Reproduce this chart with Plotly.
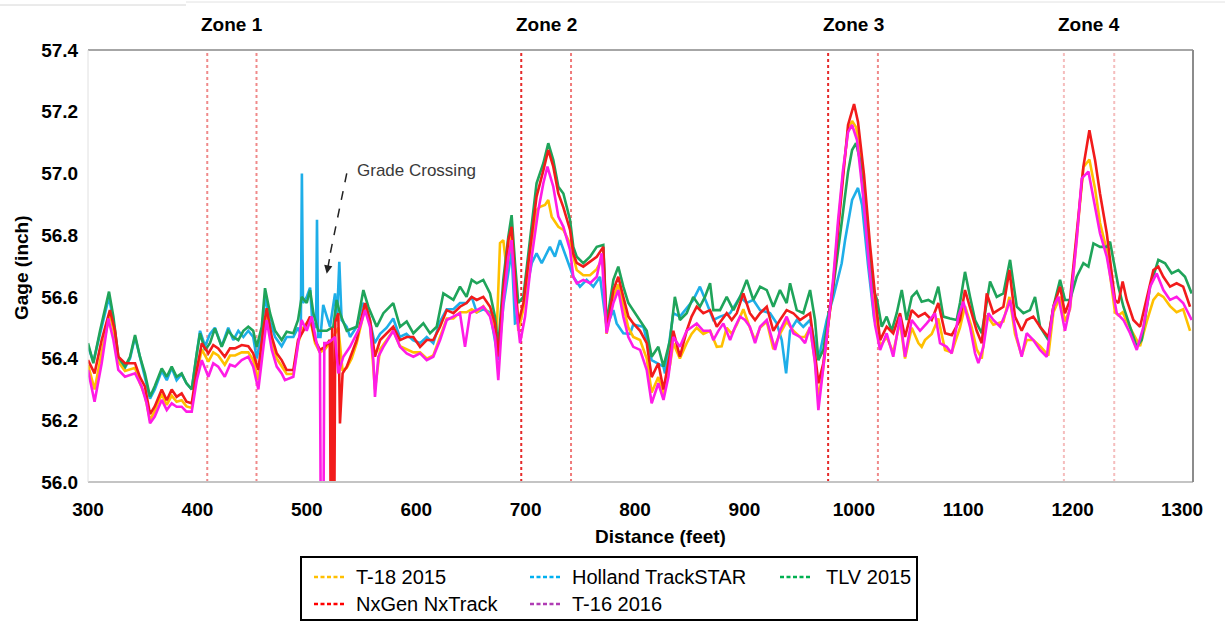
import plotly.graph_objects as go

# ---------------- data (distance ft, gage inch) ----------------
t18_2015 = [
    (300, 56.38), (306, 56.30), (312.5, 56.42), (320, 56.545), (324.7, 56.47), (327.7, 56.39), (333.8, 56.36),
    (343, 56.37), (347.5, 56.32), (352, 56.28), (356.7, 56.20), (361, 56.23), (367.4, 56.285), (372, 56.25),
    (376.5, 56.28), (381, 56.26), (385.6, 56.265), (390, 56.245), (394.8, 56.24), (399.4, 56.35), (404, 56.43),
    (410, 56.39), (414.5, 56.42), (419, 56.41), (425, 56.38), (429.8, 56.41), (434.4, 56.41), (440.5, 56.42),
    (446.5, 56.42), (451, 56.395), (455.7, 56.33), (460, 56.47), (463.3, 56.545), (468, 56.45), (472.5, 56.40),
    (477, 56.375), (481.6, 56.35), (487.7, 56.35), (492, 56.45), (496.8, 56.50), (503, 56.53), (507.5, 56.45),
    (512, 56.42), (516.6, 56.43), (521, 56.45), (528.8, 56.50), (532.7, 56.36), (536.5, 56.37), (541, 56.40),
    (545.6, 56.45), (550.2, 56.52), (553.2, 56.565), (557.8, 56.51), (562.3, 56.30), (567, 56.43), (573, 56.46),
    (579, 56.49), (585.2, 56.44), (591.3, 56.43), (597.4, 56.42), (603.5, 56.42), (609.6, 56.40), (615.6, 56.41),
    (621.8, 56.47), (627.9, 56.53), (634, 56.53), (640, 56.55), (646, 56.55), (650.7, 56.56), (655.3, 56.55),
    (661.3, 56.57), (667.5, 56.54), (673.6, 56.49), (676.6, 56.774), (679.6, 56.784), (682.7, 56.687),
    (687.2, 56.806), (690.3, 56.665), (693.3, 56.49), (697.9, 56.56), (704, 56.74), (710, 56.881), (713.2, 56.892),
    (717.7, 56.898), (720.7, 56.914), (723.8, 56.86), (729.9, 56.827), (734.5, 56.817), (740.6, 56.773),
    (746.7, 56.687), (752.7, 56.67), (758.9, 56.67), (765, 56.69), (771, 56.73), (774, 56.48), (780.2, 56.60),
    (784.7, 56.64), (789.3, 56.57), (793.9, 56.50), (798.4, 56.47), (804.6, 56.46), (810.7, 56.40), (815.2, 56.29),
    (821.3, 56.34), (826, 56.28), (832, 56.38), (835, 56.45), (841, 56.40), (847.2, 56.45), (851.7, 56.48),
    (856.4, 56.50), (862.4, 56.48), (868.6, 56.49), (874.7, 56.438), (879.2, 56.44), (883.8, 56.50), (888.4, 56.48),
    (893, 56.51), (899, 56.56), (905, 56.50), (909.7, 56.46), (914.3, 56.50), (920.4, 56.52), (926.4, 56.43),
    (932.5, 56.48), (938.6, 56.52), (944.7, 56.49), (950.8, 56.47), (955.4, 56.47), (960, 56.50), (964.5, 56.39),
    (967.6, 56.27), (972.1, 56.37), (976.7, 56.51), (981.3, 56.65), (985.6, 56.83), (990.1, 57.00), (994.7, 57.14),
    (998.4, 57.17), (1002, 57.15), (1006, 57.07), (1011, 56.88), (1016, 56.68), (1021, 56.52), (1024, 56.44),
    (1030, 56.47), (1036, 56.42), (1042.2, 56.52), (1046.8, 56.40), (1052.9, 56.50), (1059, 56.45), (1062, 56.438),
    (1065, 56.46), (1071.2, 56.48), (1077.2, 56.53), (1083.4, 56.428), (1089.5, 56.42), (1097, 56.50),
    (1101.6, 56.57), (1107.8, 56.50), (1112.3, 56.43), (1116.9, 56.40), (1121.5, 56.54), (1127.5, 56.51),
    (1136.7, 56.52), (1142.2, 56.60), (1147.3, 56.48), (1153.4, 56.41), (1158, 56.46), (1164, 56.46),
    (1170.2, 56.44), (1177.8, 56.41), (1182.4, 56.55), (1188.5, 56.60), (1193, 56.52), (1197.6, 56.56),
    (1203.7, 56.79), (1209.8, 57.02), (1215.3, 57.045), (1220.5, 56.95), (1225, 56.84), (1231.2, 56.75),
    (1235.7, 56.63), (1238.7, 56.55), (1241.8, 56.54), (1245.7, 56.55), (1249.4, 56.52), (1255.5, 56.48),
    (1261.6, 56.44), (1267.7, 56.52), (1273.8, 56.59), (1278.3, 56.61), (1282.9, 56.60), (1289, 56.57),
    (1295, 56.55), (1301, 56.56), (1307.3, 56.49),
]

holland_trackstar = [
    (300, 56.44), (304.9, 56.39), (311, 56.48), (319.2, 56.60), (323.2, 56.52), (327.7, 56.40), (333.8, 56.37),
    (338.4, 56.40), (343, 56.47), (347.5, 56.40), (352, 56.34), (356.7, 56.27), (361, 56.30), (367.4, 56.36),
    (372, 56.33), (376.5, 56.37), (381, 56.33), (385.6, 56.35), (390, 56.32), (394.8, 56.30), (399.4, 56.42),
    (402.4, 56.49), (407, 56.44), (411.5, 56.48), (416, 56.50), (422.2, 56.44), (428.2, 56.50), (432.8, 56.46),
    (437.4, 56.49), (442, 56.47), (446.5, 56.49), (451, 56.47), (454.2, 56.40), (458.8, 56.48), (461.8, 56.60),
    (466.4, 56.52), (471, 56.47), (477, 56.44), (481.6, 56.47), (487.7, 56.47), (492, 56.50), (494.5, 56.48),
    (495.5, 57.00), (496.5, 56.58), (499.9, 56.60), (503, 56.63), (505, 56.52), (508.5, 56.50), (509.3, 56.85),
    (510.3, 56.47), (512.5, 56.47), (515, 56.574), (521.2, 56.503), (525.8, 56.611), (527.5, 56.52),
    (529.7, 56.714), (531.8, 56.525), (536.5, 56.503), (539.5, 56.47), (545.6, 56.503), (551, 56.58), (556, 56.55),
    (562, 56.45), (567, 56.48), (573, 56.50), (579, 56.53), (585, 56.47), (591, 56.48), (597, 56.46), (603.5, 56.45),
    (609.6, 56.47), (615.6, 56.45), (621.8, 56.52), (627.9, 56.56), (634, 56.56), (640, 56.58), (646, 56.58),
    (650.7, 56.60), (655.3, 56.55), (661.3, 56.56), (667.5, 56.55), (672, 56.46), (675, 56.395), (679.6, 56.57),
    (684.2, 56.68), (687.2, 56.75), (690.3, 56.514), (694.9, 56.52), (699.5, 56.60), (705.6, 56.709),
    (710, 56.741), (714.7, 56.709), (722.2, 56.762), (726.8, 56.73), (731.4, 56.784), (737.6, 56.72),
    (743.6, 56.665), (749.7, 56.633), (755.8, 56.655), (761.9, 56.633), (768, 56.665), (774, 56.503),
    (780.2, 56.557), (783.2, 56.514), (789.3, 56.482), (795.4, 56.48), (798.4, 56.51), (807.6, 56.503),
    (815.2, 56.395), (826, 56.374), (827.4, 56.352), (835, 56.547), (841, 56.536), (853.2, 56.59), (859.3, 56.633),
    (865.5, 56.58), (871.6, 56.525), (877.7, 56.536), (886.9, 56.547), (896, 56.60), (902.1, 56.58), (908.1, 56.59),
    (914.3, 56.557), (923.4, 56.547), (929.5, 56.514), (934.1, 56.46), (938.1, 56.352), (941.7, 56.49),
    (947.8, 56.525), (953.8, 56.503), (960, 56.525), (967.6, 56.395), (975.2, 56.525), (981.3, 56.60),
    (988.9, 56.709), (992, 56.784), (998.4, 56.914), (1003.8, 56.953), (1007.5, 56.898), (1013, 56.703),
    (1018.5, 56.531), (1024, 56.46),
]

tlv_2015 = [
    (300, 56.45), (304.9, 56.385), (311, 56.49), (319.2, 56.617), (323.2, 56.536), (327.7, 56.406), (333.8, 56.374),
    (338.4, 56.406), (343, 56.476), (347.5, 56.406), (352, 56.352), (356.7, 56.276), (361, 56.31), (367.4, 56.368),
    (372, 56.341), (376.5, 56.374), (381, 56.341), (385.6, 56.352), (390, 56.32), (394.8, 56.30), (399.4, 56.417),
    (402.4, 56.482), (407, 56.428), (411.5, 56.45), (416, 56.498), (422.2, 56.438), (428.2, 56.49), (432.8, 56.47),
    (437.4, 56.46), (442, 56.49), (446.5, 56.503), (451, 56.49), (454.2, 56.438), (458.8, 56.503), (461.8, 56.628),
    (466.4, 56.547), (471, 56.49), (477, 56.46), (481.6, 56.487), (487.7, 56.482), (492, 56.525), (495.3, 56.60),
    (499.9, 56.58), (503, 56.622), (506, 56.547), (510.5, 56.49), (518.2, 56.49), (524.2, 56.503), (527.3, 56.59),
    (530.3, 56.547), (536.5, 56.49), (545.6, 56.503), (551.7, 56.622), (556.2, 56.568), (563.9, 56.503),
    (570, 56.547), (579, 56.58), (585.2, 56.503), (591.3, 56.52), (597.4, 56.482), (606.5, 56.514), (612.6, 56.482),
    (618.7, 56.503), (624.8, 56.611), (634, 56.59), (640, 56.633), (646, 56.60), (650.7, 56.655), (655.3, 56.644),
    (661.3, 56.655), (667.5, 56.611), (672, 56.536), (675, 56.438), (679.6, 56.655), (684.2, 56.795),
    (687.2, 56.865), (690.3, 56.709), (693.3, 56.58), (697.9, 56.60), (704, 56.784), (710, 56.968), (716.2, 57.033),
    (720.7, 57.098), (725.3, 57.043), (729.9, 56.957), (734.5, 56.935), (740.6, 56.849), (743.6, 56.762),
    (746.7, 56.73), (752.7, 56.709), (758.9, 56.73), (765, 56.762), (771, 56.768), (774, 56.514), (780.2, 56.655),
    (784.7, 56.698), (789.3, 56.633), (793.9, 56.58), (798.4, 56.557), (804.6, 56.525), (810.7, 56.49),
    (815.2, 56.406), (821.3, 56.438), (826, 56.374), (832, 56.46), (836.4, 56.60), (841, 56.525), (847.2, 56.547),
    (853.2, 56.60), (859.3, 56.568), (863.9, 56.60), (868.6, 56.644), (871.6, 56.557), (877.7, 56.557),
    (883.8, 56.60), (889.9, 56.557), (896, 56.60), (902.1, 56.655), (908.1, 56.59), (914.3, 56.633),
    (920.4, 56.622), (926.4, 56.568), (932.5, 56.622), (938.6, 56.58), (941.7, 56.644), (947.8, 56.557),
    (953.8, 56.547), (960, 56.622), (964.5, 56.525), (967.6, 56.395), (972.1, 56.428), (976.7, 56.536),
    (981.3, 56.633), (989.2, 56.849), (994.7, 57.005), (998.4, 57.076), (1002, 57.098), (1005.7, 57.043),
    (1011.2, 56.849), (1016.6, 56.638), (1021.2, 56.59), (1025.5, 56.503), (1030, 56.536), (1034.6, 56.49),
    (1039.2, 56.547), (1043.8, 56.622), (1048.3, 56.525), (1052.9, 56.60), (1057.5, 56.617), (1062, 56.584),
    (1068.1, 56.59), (1072.7, 56.58), (1077.2, 56.633), (1081.8, 56.536), (1087.9, 56.53), (1094, 56.525),
    (1097, 56.58), (1101.6, 56.681), (1106.2, 56.60), (1110.8, 56.525), (1116.9, 56.482), (1121.5, 56.58),
    (1124.5, 56.65), (1130.6, 56.60), (1136.7, 56.611), (1142.8, 56.72), (1148.9, 56.568), (1155, 56.547),
    (1161, 56.557), (1165.6, 56.60), (1170.2, 56.503), (1177.8, 56.46), (1182.4, 56.568), (1188.5, 56.655),
    (1193, 56.59), (1197.6, 56.59), (1203.7, 56.665), (1209.8, 56.709), (1214.4, 56.698), (1219, 56.773),
    (1225, 56.762), (1231.2, 56.762), (1234.2, 56.779), (1237.2, 56.72), (1241.8, 56.633), (1246.4, 56.568),
    (1252.5, 56.503), (1258.6, 56.438), (1263.1, 56.46), (1270.8, 56.633), (1278.3, 56.72), (1284.5, 56.709),
    (1290.5, 56.676), (1296.6, 56.687), (1302.7, 56.665), (1308.8, 56.611),
]

nxgen_nxtrack = [
    (300, 56.395), (306, 56.352), (312.5, 56.46), (320, 56.557), (324.7, 56.49), (327.7, 56.406), (333.8, 56.385),
    (343, 56.385), (347.5, 56.34), (352, 56.31), (356.7, 56.22), (361, 56.245), (367.4, 56.30), (372, 56.265),
    (376.5, 56.30), (381, 56.276), (385.6, 56.287), (390, 56.26), (394.8, 56.255), (399.4, 56.363), (404, 56.45),
    (410, 56.417), (414.5, 56.444), (419, 56.433), (425, 56.406), (429.8, 56.433), (434.4, 56.433), (440.5, 56.444),
    (446.5, 56.44), (451, 56.417), (455.7, 56.363), (460, 56.49), (463.3, 56.563), (468, 56.47), (472.5, 56.417),
    (477, 56.395), (481.6, 56.363), (487.7, 56.363), (492, 56.46), (496.8, 56.49), (503, 56.536), (507.5, 56.46),
    (512, 56.428), (516.6, 56.438), (521, 56.46), (522.1, 55.7), (523.2, 56.50), (524.9, 55.7), (526, 56.52),
    (528.8, 56.547), (530.3, 56.19), (532.7, 56.352), (536.5, 56.374), (541, 56.417), (545.6, 56.46),
    (550.2, 56.536), (553.2, 56.58), (557.8, 56.525), (562.3, 56.406), (567, 56.46), (573, 56.482), (579, 56.503),
    (585.2, 56.46), (591.3, 56.47), (597.4, 56.47), (603.5, 56.438), (609.6, 56.46), (615.6, 56.46), (621.8, 56.503),
    (627.9, 56.557), (634, 56.547), (640, 56.568), (646, 56.58), (650.7, 56.60), (655.3, 56.59), (661.3, 56.60),
    (667.5, 56.568), (672, 56.514), (675, 56.406), (679.6, 56.622), (684.2, 56.784), (687.2, 56.827),
    (690.3, 56.665), (693.3, 56.514), (697.9, 56.58), (704, 56.75), (710, 56.925), (716.2, 57.01), (720.7, 57.076),
    (725.3, 57.022), (729.9, 56.935), (734.5, 56.89), (740.6, 56.817), (743.6, 56.74), (746.7, 56.71),
    (752.7, 56.698), (758.9, 56.714), (765, 56.73), (771, 56.762), (774, 56.49), (780.2, 56.622), (784.7, 56.665),
    (789.3, 56.60), (793.9, 56.536), (798.4, 56.514), (804.6, 56.49), (810.7, 56.45), (815.2, 56.34),
    (821.3, 56.385), (826, 56.30), (832, 56.417), (835, 56.49), (841, 56.406), (847.2, 56.49), (851.7, 56.536),
    (856.4, 56.568), (862.4, 56.547), (868.6, 56.557), (874.7, 56.503), (879.2, 56.525), (883.8, 56.547),
    (888.4, 56.525), (893, 56.547), (899, 56.611), (905, 56.547), (909.7, 56.525), (914.3, 56.547), (920.4, 56.568),
    (926.4, 56.49), (932.5, 56.525), (938.6, 56.557), (944.7, 56.547), (950.8, 56.525), (955.4, 56.536),
    (960, 56.547), (964.5, 56.417), (967.6, 56.32), (972.1, 56.385), (976.7, 56.514), (981.3, 56.644),
    (985.6, 56.817), (990.1, 56.995), (994.7, 57.157), (1000.2, 57.225), (1003.8, 57.167), (1009.3, 56.995),
    (1014.8, 56.768), (1020.3, 56.574), (1024, 56.46), (1030, 56.503), (1036, 56.482), (1042.2, 56.547),
    (1046.8, 56.47), (1052.9, 56.557), (1059, 56.536), (1065, 56.547), (1071.2, 56.525), (1077.2, 56.58),
    (1083.4, 56.482), (1089.5, 56.476), (1097, 56.525), (1101.6, 56.622), (1107.8, 56.547), (1112.3, 56.49),
    (1116.9, 56.45), (1121.5, 56.611), (1127.5, 56.547), (1136.7, 56.568), (1142.2, 56.687), (1147.3, 56.536),
    (1153.4, 56.49), (1158, 56.525), (1164, 56.536), (1170.2, 56.503), (1177.8, 56.47), (1182.4, 56.568),
    (1188.5, 56.633), (1193, 56.547), (1197.6, 56.59), (1203.7, 56.806), (1209.8, 57.022), (1215.3, 57.14),
    (1220.5, 57.043), (1225, 56.935), (1231.2, 56.806), (1235.7, 56.676), (1238.7, 56.59), (1241.8, 56.58),
    (1245.7, 56.65), (1249.4, 56.59), (1255.5, 56.525), (1261.6, 56.503), (1267.7, 56.59), (1273.8, 56.687),
    (1278.3, 56.698), (1282.9, 56.665), (1289, 56.633), (1295, 56.644), (1301, 56.633), (1307.3, 56.568),
]

t16_2016 = [
    (300, 56.363), (306, 56.26), (312.5, 56.385), (318.6, 56.53), (323.2, 56.46), (327.7, 56.363), (333.8, 56.341),
    (343, 56.352), (349, 56.31), (353.6, 56.255), (356.7, 56.19), (361, 56.212), (367.4, 56.266), (372, 56.233),
    (376.5, 56.255), (381, 56.244), (385.6, 56.244), (390, 56.228), (394.8, 56.228), (399.4, 56.33), (404, 56.395),
    (410, 56.341), (414.5, 56.385), (419, 56.374), (425, 56.341), (429.8, 56.38), (434.4, 56.374), (440.5, 56.395),
    (446.5, 56.406), (451, 56.374), (455.7, 56.30), (460, 56.438), (463.3, 56.525), (468, 56.428), (472.5, 56.374),
    (477, 56.352), (480, 56.33), (487.7, 56.341), (492, 56.438), (495.3, 56.525), (499.9, 56.49), (504.4, 56.536),
    (509, 56.45), (512, 56.417), (513, 55.7), (515, 55.7), (516, 56.45), (518.2, 56.45), (521, 56.455),
    (525.8, 56.47), (528.8, 56.352), (533.4, 56.406), (539.5, 56.438), (548.7, 56.503), (553.2, 56.557),
    (557.8, 56.503), (560.8, 56.395), (562.3, 56.276), (565.4, 56.406), (570, 56.438), (579, 56.49), (585.2, 56.438),
    (591.3, 56.417), (597.4, 56.406), (603.5, 56.417), (609.6, 56.395), (615.6, 56.406), (621.8, 56.46),
    (627.9, 56.525), (634, 56.536), (640, 56.547), (644.6, 56.438), (649.2, 56.547), (655.3, 56.557),
    (661.3, 56.568), (667.5, 56.536), (672, 56.47), (675, 56.33), (679.6, 56.58), (684.2, 56.73), (687.2, 56.784),
    (690.3, 56.60), (694.9, 56.45), (699.5, 56.536), (705.6, 56.73), (711.6, 56.881), (716.2, 56.968),
    (719.9, 57.022), (725.3, 56.957), (729.9, 56.86), (734.5, 56.827), (740.6, 56.752), (743.6, 56.665),
    (746.7, 56.644), (752.7, 56.655), (758.9, 56.644), (765, 56.665), (769.5, 56.741), (774, 56.482),
    (780.2, 56.58), (784.7, 56.622), (789.3, 56.536), (793.9, 56.47), (798.4, 56.438), (804.6, 56.428),
    (810.7, 56.363), (815.2, 56.255), (821.3, 56.32), (826, 56.266), (830.5, 56.341), (835, 56.47), (841, 56.438),
    (847.2, 56.49), (856.4, 56.514), (862.4, 56.49), (868.6, 56.49), (871.6, 56.46), (876.2, 56.49),
    (880.7, 56.514), (886.9, 56.46), (891.5, 56.503), (896, 56.536), (900.5, 56.525), (905, 56.503),
    (909.7, 56.45), (914.3, 56.503), (920.4, 56.525), (928, 56.428), (932.5, 56.49), (938.6, 56.536),
    (944.7, 56.482), (950.8, 56.47), (955.4, 56.45), (960, 56.503), (964.5, 56.385), (967.6, 56.233),
    (972.1, 56.363), (976.7, 56.514), (981.3, 56.665), (985.6, 56.849), (990.1, 57.011), (994.7, 57.134),
    (998.4, 57.157), (1002.9, 57.108), (1008.4, 56.93), (1013.9, 56.703), (1019.4, 56.509), (1024, 56.428),
    (1030, 56.482), (1036, 56.406), (1042.2, 56.536), (1046.8, 56.406), (1052.9, 56.525), (1060.5, 56.49),
    (1066.6, 56.514), (1074.2, 56.547), (1078.8, 56.45), (1084.8, 56.438), (1089.5, 56.417), (1095.5, 56.536),
    (1100.1, 56.584), (1106.2, 56.503), (1110.8, 56.417), (1113.8, 56.385), (1118.4, 56.438), (1123, 56.547),
    (1127.5, 56.525), (1133.7, 56.503), (1139.8, 56.557), (1142.8, 56.59), (1148.9, 56.47), (1153.4, 56.406),
    (1158, 56.482), (1164, 56.46), (1170.2, 56.428), (1176.3, 56.406), (1182.4, 56.568), (1187, 56.60),
    (1193, 56.49), (1197.6, 56.568), (1203.7, 56.784), (1208.3, 56.984), (1214.4, 57.006), (1219, 56.914),
    (1225, 56.806), (1231.2, 56.73), (1235.7, 56.633), (1240.3, 56.547), (1246.4, 56.525), (1252.5, 56.482),
    (1258.6, 56.428), (1264.7, 56.503), (1270.8, 56.633), (1276.8, 56.676), (1282.9, 56.622), (1289, 56.59),
    (1295, 56.60), (1301, 56.58), (1308.8, 56.525),
]

series_names = ["T-18 2015", "Holland TrackSTAR", "TLV 2015", "NxGen NxTrack", "T-16 2016"]
zone_labels = ["Zone 1", "Zone 2", "Zone 3", "Zone 4"]
zone_bounds = [(409, 454), (696, 741.5), (976.5, 1022), (1192, 1238)]
x_ticks = [300, 400, 500, 600, 700, 800, 900, 1000, 1100, 1200, 1300]
y_ticks = [56.0, 56.2, 56.4, 56.6, 56.8, 57.0, 57.2, 57.4]

# ---------------- styling ----------------
W, H = 1225, 626
L, R, T, B = 88, 32, 50, 144
PW, PH = W - L - R, H - T - B
FONT = "Liberation Sans, Arial, sans-serif"


def px(xp):  # pixel -> paper x
    return (xp - L) / PW


def py(yp):  # pixel -> paper y
    return (H - B - yp) / PH


line_colors = {
    "T-18 2015": "#FFC000",
    "Holland TrackSTAR": "#1EAEE8",
    "TLV 2015": "#1FA45A",
    "NxGen NxTrack": "#F21B1B",
    "T-16 2016": "#FF1CE6",
}
legend_colors = {
    "T-18 2015": "#FFC000",
    "Holland TrackSTAR": "#00B0F0",
    "TLV 2015": "#00B050",
    "NxGen NxTrack": "#FF0000",
    "T-16 2016": "#B03CB4",
}
data_map = {
    "T-18 2015": t18_2015,
    "Holland TrackSTAR": holland_trackstar,
    "TLV 2015": tlv_2015,
    "NxGen NxTrack": nxgen_nxtrack,
    "T-16 2016": t16_2016,
}
draw_order = ["Holland TrackSTAR", "T-18 2015", "TLV 2015", "NxGen NxTrack", "T-16 2016"]

fig = go.Figure()
for name in draw_order:
    pts = data_map[name]
    fig.add_trace(go.Scatter(
        x=[p[0] for p in pts], y=[p[1] for p in pts], mode="lines", name=name,
        line=dict(color=line_colors[name], width=2.6), showlegend=False,
    ))

shapes = []
annotations = []

# zone boundary lines
zone_line_colors = [("#F08A8A", "#F08A8A"), ("#E62A2A", "#F07A7A"), ("#E62A2A", "#F08A8A"), ("#F5BDBD", "#F5BDBD")]
for (a, b), (ca, cb), lab in zip(zone_bounds, zone_line_colors, zone_labels):
    for xv, c in ((a, ca), (b, cb)):
        shapes.append(dict(type="line", xref="x", yref="paper", x0=xv, x1=xv, y0=0, y1=1,
                           line=dict(color=c, width=2, dash="dot"), layer="below"))
    annotations.append(dict(x=(a + b) / 2, y=py(24), xref="x", yref="paper", text="<b>%s</b>" % lab,
                            showarrow=False, font=dict(family=FONT, size=19, color="black"),
                            xanchor="center", yanchor="middle"))

# plot frame
shapes += [
    dict(type="line", xref="paper", yref="paper", x0=0, x1=1, y0=1, y1=1, line=dict(color="#A6A6A6", width=2)),
    dict(type="line", xref="paper", yref="paper", x0=0, x1=1, y0=0, y1=0, line=dict(color="#C4C4C4", width=2)),
    dict(type="line", xref="paper", yref="paper", x0=0, x1=0, y0=0, y1=1, line=dict(color="#E0E0E0", width=1)),
    dict(type="line", xref="paper", yref="paper", x0=1, x1=1, y0=0, y1=1, line=dict(color="#8C8C8C", width=2)),
    # faint page edges at top
    dict(type="line", xref="paper", yref="paper", x0=px(0), x1=px(186), y0=py(5), y1=py(5),
         line=dict(color="#D6D6D6", width=1)),
    dict(type="line", xref="paper", yref="paper", x0=px(186), x1=px(1225), y0=py(2), y1=py(2),
         line=dict(color="#E2E2E2", width=1)),
]

# grade crossing callout
shapes.append(dict(type="line", xref="x", yref="y", x0=536.5, y0=57.0, x1=520.8, y1=56.73,
                   line=dict(color="#222222", width=1.5, dash="dash")))
annotations.append(dict(x=518.2, y=56.675, xref="x", yref="y", ax=3, ay=-16, text="",
                        showarrow=True, arrowhead=2, arrowsize=1.1, arrowwidth=1.5, arrowcolor="#222222"))
annotations.append(dict(x=px(355), y=py(170), xref="paper", yref="paper", text="Grade Crossing",
                        showarrow=False, xanchor="left", yanchor="middle",
                        font=dict(family=FONT, size=17, color="#3A3A3A")))

# axis titles
annotations.append(dict(x=px(660), y=py(536), xref="paper", yref="paper", text="<b>Distance (feet)</b>",
                        showarrow=False, xanchor="center", yanchor="middle",
                        font=dict(family=FONT, size=19, color="black")))
annotations.append(dict(x=px(21), y=py(268), xref="paper", yref="paper", text="<b>Gage (inch)</b>",
                        showarrow=False, xanchor="center", yanchor="middle", textangle=-90,
                        font=dict(family=FONT, size=19, color="black")))

# legend (drawn box with dashed samples)
shapes.append(dict(type="rect", xref="paper", yref="paper", x0=px(301), x1=px(917), y0=py(557), y1=py(620),
                   line=dict(color="black", width=2), fillcolor="white"))
legend_slots = {
    "T-18 2015": (314, 577, 354),
    "Holland TrackSTAR": (530, 577, 570),
    "TLV 2015": (780, 577, 824),
    "NxGen NxTrack": (314, 604, 354),
    "T-16 2016": (530, 604, 570),
}
for name in series_names:
    lx, ly, tx = legend_slots[name]
    shapes.append(dict(type="line", xref="paper", yref="paper", x0=px(lx), x1=px(lx + 31), y0=py(ly), y1=py(ly),
                       line=dict(color=legend_colors[name], width=2.5, dash="4px,2.5px")))
    annotations.append(dict(x=px(tx), y=py(ly), xref="paper", yref="paper", text=name, showarrow=False,
                            xanchor="left", yanchor="middle", font=dict(family=FONT, size=20, color="black")))

fig.update_layout(
    width=W, height=H,
    margin=dict(l=L, r=R, t=T, b=B, pad=0),
    paper_bgcolor="white", plot_bgcolor="white",
    showlegend=False,
    shapes=shapes, annotations=annotations,
    font=dict(family=FONT, color="black"),
    xaxis=dict(range=[300, 1310], tickvals=x_ticks, ticktext=[str(v) for v in x_ticks],
               showgrid=False, zeroline=False, showline=False,
               ticks="outside", ticklen=10, tickcolor="rgba(0,0,0,0)",
               tickfont=dict(family=FONT, size=19, color="black", weight="bold")),
    yaxis=dict(range=[56.0, 57.4], tickvals=y_ticks, ticktext=["%.1f" % v for v in y_ticks],
               showgrid=False, zeroline=False, showline=False,
               ticks="outside", ticklen=5, tickcolor="rgba(0,0,0,0)",
               tickfont=dict(family=FONT, size=19, color="black", weight="bold")),
)

fig.write_html("out.html")
